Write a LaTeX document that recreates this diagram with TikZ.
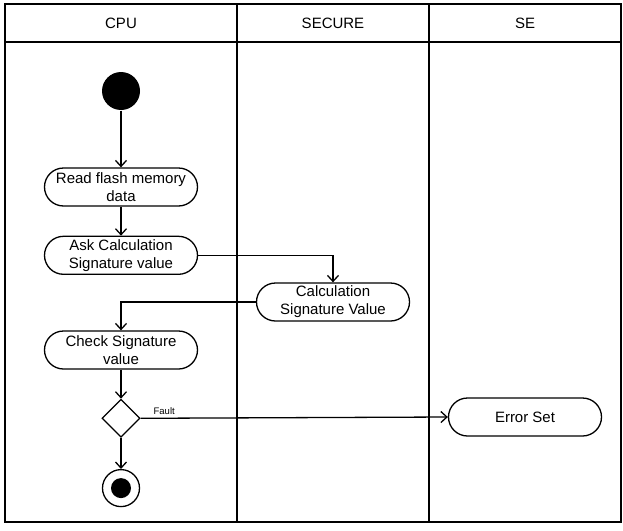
\documentclass[tikz,border=0pt]{standalone}
\usepackage{fontspec}
\setmainfont{Liberation Sans}
\usetikzlibrary{positioning,shapes.geometric,arrows.meta}

\begin{document}
\begin{tikzpicture}[x=1pt, y=-1pt, line width=1.3pt,
        act/.style={draw, rounded corners=19pt, minimum width=153pt, minimum height=38pt, inner sep=1pt, align=center, font=\fontsize{15}{18}\selectfont},
        lane/.style={font=\fontsize{15}{18}\selectfont},
        flow/.style={-{Straight Barb[length=6pt, width=11pt]}}]
        \useasboundingbox (0,0) rectangle (623,530);

        % swimlanes
        \draw (5,4) rectangle (621,522);
        \draw (5,42) -- (621,42);
        \draw (237,4) -- (237,522);
        \draw (429,4) -- (429,522);
        \node[lane] (hcpu) at (121,23) {CPU};
        \node[lane] (hsecure) at (333,23) {SECURE};
        \node[lane] (hse) at (525,23) {SE};

        \node[fill=black, circle, minimum size=38pt, inner sep=0pt] (start) at (121,91) {};
        \node[act] (read) at (121,187) {Read flash memory\\data};
        \node[act] (ask) [below=29pt of read] {Ask Calculation\\Signature value};
        \node[act] (calc) at (333,302) {Calculation\\Signature Value};
        \node[act] (check) at (121,350) {Check Signature\\value};
        \node[draw, diamond, minimum size=38pt, inner sep=0pt] (dec) [below=29pt of check] {};
        \node[act] (err) at (525,417) {Error Set};
        \node[draw, circle, minimum size=37pt, inner sep=0pt] (stop) [below=31pt of dec] {};
        \node[fill=black, circle, minimum size=20pt, inner sep=0pt] (stopin) at (stop) {};

        \draw[flow] (start) -- (read);
        \draw[flow] (read) -- (ask);
        \draw[flow] (ask.east) -| (calc.north);
        \draw[flow] (calc.west) -| (check.north);
        \draw[flow] (check) -- (dec);
        \draw[flow] (dec.east) -- node[pos=0, anchor=south west, xshift=9pt, font=\fontsize{9.5}{11}\selectfont] {Fault} (err.west);
        \draw[flow] (dec) -- (stop);

\end{tikzpicture}
\end{document}
